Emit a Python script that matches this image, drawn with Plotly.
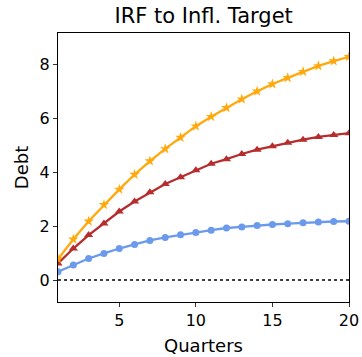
import plotly.graph_objects as go

quarters = list(range(1, 21))

debt_orange = [0.78, 1.51, 2.18, 2.79, 3.36, 3.91, 4.41, 4.86, 5.28, 5.70,
               6.05, 6.38, 6.70, 6.99, 7.26, 7.49, 7.72, 7.93, 8.11, 8.27]
debt_red = [0.62, 1.17, 1.67, 2.10, 2.54, 2.91, 3.25, 3.56, 3.81, 4.07,
            4.31, 4.48, 4.67, 4.83, 4.96, 5.09, 5.20, 5.30, 5.37, 5.44]
debt_blue = [0.31, 0.56, 0.80, 0.99, 1.17, 1.32, 1.47, 1.58, 1.68, 1.76,
             1.85, 1.93, 1.97, 2.02, 2.06, 2.09, 2.12, 2.15, 2.17, 2.18]

y_ticks = [0, 2, 4, 6, 8]
x_ticks = [5, 10, 15, 20]

font = "DejaVu Sans"

fig = go.Figure()

# zero reference line
fig.add_trace(go.Scatter(
    x=[quarters[0], quarters[-1]], y=[0, 0], mode="lines",
    line=dict(color="black", width=1.5, dash="dot"),
    hoverinfo="skip", showlegend=False,
))

series = [
    (debt_blue, "#6495ED", "circle", 7),
    (debt_red, "#B22222", "triangle-up", 8),
    (debt_orange, "#FFA500", "star", 8),
]
for vals, color, symbol, size in series:
    fig.add_trace(go.Scatter(
        x=quarters, y=vals, mode="lines+markers",
        line=dict(color=color, width=2.3),
        marker=dict(symbol=symbol, size=size, color=color,
                    line=dict(width=0)),
        opacity=0.95, showlegend=False,
    ))

axis_common = dict(
    showgrid=False, zeroline=False, automargin=False,
    showline=True, linecolor="black", linewidth=1.2, mirror=True,
    ticks="outside", ticklen=4, tickwidth=1, tickcolor="#333",
    tickfont=dict(family=font, size=16, color="black"),
)

fig.update_layout(
    width=362, height=357,
    margin=dict(l=58, r=13, t=33, b=55),
    paper_bgcolor="white", plot_bgcolor="white",
    title=dict(text="IRF to Infl. Target", x=0.5625, xanchor="center",
               y=0.955, yanchor="middle",
               font=dict(family=font, size=21, color="black")),
    xaxis=dict(range=[1, 20], tickvals=x_ticks,
               title=dict(text="Quarters", standoff=10,
                          font=dict(family=font, size=18, color="black")),
               **axis_common),
    yaxis=dict(range=[-0.81, 9.15], tickvals=y_ticks,
               title=dict(text="Debt", standoff=6,
                          font=dict(family=font, size=18, color="black")),
               **axis_common),
)

fig.write_html("out.html")
